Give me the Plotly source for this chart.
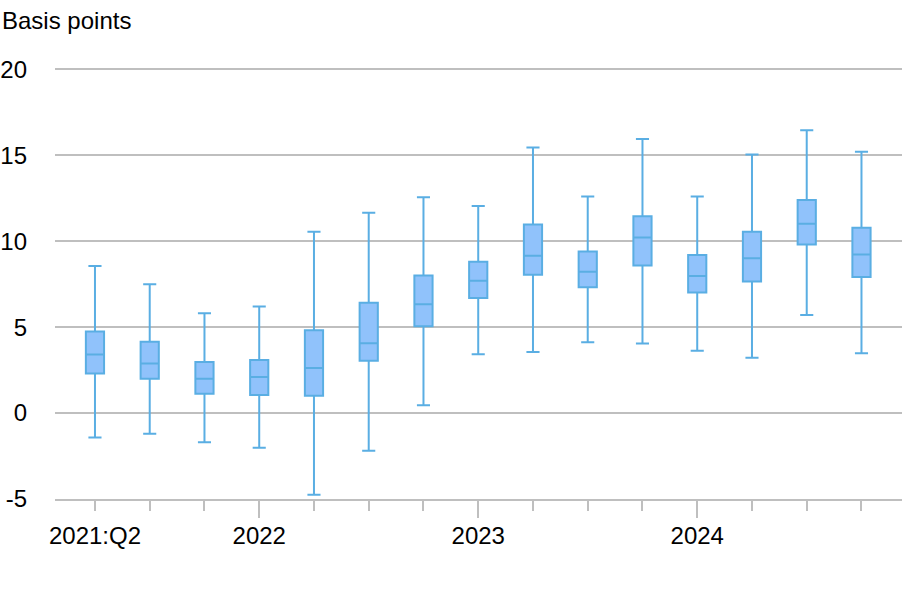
import plotly.graph_objects as go

# quarterly distribution, basis points
quarters = ["2021:Q2", "2021:Q3", "2021:Q4", "2022:Q1", "2022:Q2", "2022:Q3", "2022:Q4",
            "2023:Q1", "2023:Q2", "2023:Q3", "2023:Q4", "2024:Q1", "2024:Q2", "2024:Q3", "2024:Q4"]
upper = [8.55, 7.5, 5.8, 6.2, 10.55, 11.65, 12.55, 12.05, 15.45, 12.6, 15.95, 12.6, 15.05, 16.45, 15.2]
q3 = [4.75, 4.15, 2.97, 3.08, 4.82, 6.42, 8.0, 8.8, 10.97, 9.4, 11.45, 9.2, 10.55, 12.4, 10.78]
median = [3.4, 2.88, 2.0, 2.1, 2.62, 4.06, 6.33, 7.7, 9.15, 8.22, 10.22, 7.98, 9.0, 11.02, 9.22]
q1 = [2.3, 2.0, 1.12, 1.05, 1.01, 3.04, 5.05, 6.7, 8.04, 7.32, 8.58, 7.02, 7.65, 9.8, 7.92]
lower = [-1.42, -1.2, -1.7, -2.02, -4.75, -2.2, 0.45, 3.42, 3.55, 4.12, 4.05, 3.62, 3.22, 5.7, 3.48]

label_pos = [0, 3, 7, 11]
label_text = ["2021:Q2", "2022", "2023", "2024"]
year_ticks = [3, 7, 11]
y_ticks = [-5, 0, 5, 10, 15, 20]
y_ticktext = ["-5", "0", "5", "10", "15", "20"]

FONT = "Liberation Sans, Arial, sans-serif"
GRID = "#bfbfbf"
L, R, T, B = 55, 18, 65, 101
PW, PH = 920 - L - R, 600 - T - B

xs = list(range(len(quarters)))
ticktext = [label_text[label_pos.index(i)] if i in label_pos else "" for i in xs]

fig = go.Figure()
fig.add_trace(go.Box(
    x=xs, q1=q1, median=median, q3=q3,
    lowerfence=lower, upperfence=upper,
    fillcolor="#90c2fb",
    line=dict(color="#5aaee3", width=2),
    whiskerwidth=0.72,
    boxpoints=False,
    showlegend=False,
))
# empty trace so the overlay axis with the long year ticks gets drawn
fig.add_trace(go.Scatter(x=[], y=[], xaxis="x2", showlegend=False))

xrange = [-0.73, len(quarters) - 1 + 0.74]
fig.update_layout(
    width=920, height=600,
    margin=dict(l=L, r=R, t=T, b=B),
    paper_bgcolor="white", plot_bgcolor="white",
    font=dict(family=FONT, size=24, color="black"),
    boxgap=0.525,
    xaxis=dict(
        range=xrange, tickmode="array", tickvals=xs, ticktext=ticktext,
        ticks="outside", ticklen=10, tickwidth=2, tickcolor=GRID,
        showgrid=False, zeroline=False,
        showline=True, linecolor=GRID, linewidth=2,
        ticklabelstandoff=4, automargin=False,
    ),
    xaxis2=dict(
        range=xrange, overlaying="x", anchor="y", side="bottom",
        tickmode="array", tickvals=year_ticks, showticklabels=False,
        ticks="outside", ticklen=18, tickwidth=2, tickcolor=GRID,
        showgrid=False, zeroline=False, showline=False, automargin=False,
    ),
    yaxis=dict(
        range=[-5, 20.25], tickmode="array", tickvals=y_ticks, ticktext=y_ticktext,
        showgrid=True, gridcolor=GRID, gridwidth=2,
        zeroline=False, showline=False, ticks="",
        ticklabelstandoff=27, automargin=False,
    ),
)
fig.add_annotation(
    text="Basis points", xref="paper", yref="paper",
    x=-55 / PW, y=1 + (T - 20) / PH, xanchor="left", yanchor="middle",
    showarrow=False, font=dict(family=FONT, size=24, color="black"),
)

# page has a default 8px body margin; drop it so the figure fills the window
fig.write_html("out.html", config={"displayModeBar": False},
               post_script="document.body.style.margin='0px';")
